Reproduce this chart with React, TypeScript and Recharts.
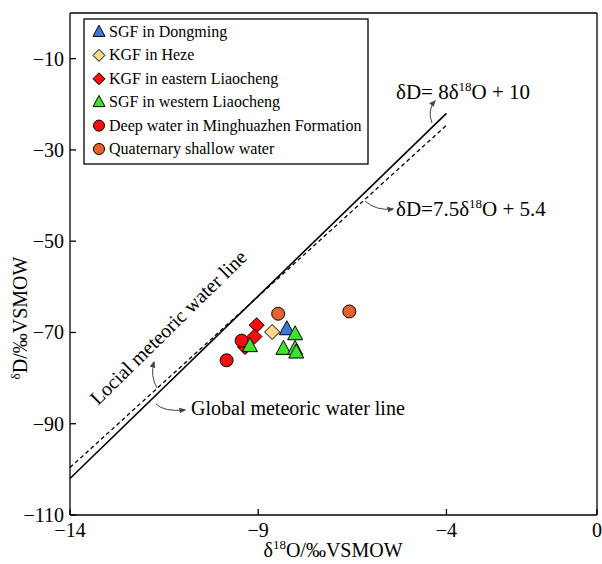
import { ScatterChart, Scatter, XAxis, YAxis, ReferenceLine } from "recharts"

// sample points (δ18O, δD)
const sgfDongming = [{ x: -8.24, y: -69.3 }]
const kgfHeze = [{ x: -8.63, y: -69.9 }]
const kgfEastLiaocheng = [
  { x: -9.04, y: -68.4 },
  { x: -9.1, y: -70.9 },
  { x: -9.35, y: -73.2 },
]
const sgfWestLiaocheng = [
  { x: -9.22, y: -73.0 },
  { x: -8.02, y: -70.4 },
  { x: -8.33, y: -73.6 },
  { x: -8.02, y: -73.6 },
  { x: -7.99, y: -74.4 },
]
const deepWater = [
  { x: -9.84, y: -76.1 },
  { x: -9.44, y: -71.8 },
]
const shallowWater = [
  { x: -8.47, y: -65.9 },
  { x: -6.58, y: -65.4 },
]

const xTicks = [-14, -9, -4, 0]
const yTicks = [-110, -90, -70, -50, -30, -10]

const gmwl = { slope: 8, intercept: 10 }
const lmwl = { slope: 7.5, intercept: 5.4 }
const lineRange = [-14, -4]

const FONT = "'Liberation Serif', 'Times New Roman', serif"
const W = 602
const H = 564
const LEFT = 70
const TOP = 13
const RIGHT = 5
const BOTTOM = 49

const blue = "#3b78de"
const tan = "#f8d98c"
const red = "#f80c0c"
const green = "#3ee42a"
const orange = "#e5622f"

const minus = (v: number) => (v < 0 ? "\u2212" + Math.abs(v) : String(v))

const triangle = (fill: string, s = 1) => (p: any) => (
  <path
    d={`M${p.cx},${p.cy - 8.5 * s} L${p.cx + 7.5 * s},${p.cy + 5.5 * s} L${p.cx - 7.5 * s},${p.cy + 5.5 * s} Z`}
    fill={fill}
    stroke="#000"
    strokeWidth={1}
  />
)
const diamond = (fill: string, s = 1) => (p: any) => (
  <path
    d={`M${p.cx},${p.cy - 7.5 * s} L${p.cx + 7.5 * s},${p.cy} L${p.cx},${p.cy + 7.5 * s} L${p.cx - 7.5 * s},${p.cy} Z`}
    fill={fill}
    stroke="#000"
    strokeWidth={1}
  />
)
const circle = (fill: string, s = 1) => (p: any) => (
  <circle cx={p.cx} cy={p.cy} r={6.5 * s} fill={fill} stroke="#000" strokeWidth={1} />
)

const legendItems = [
  { name: "SGF in Dongming", shape: triangle(blue, 0.8) },
  { name: "KGF in Heze", shape: diamond(tan, 0.8) },
  { name: "KGF in eastern Liaocheng", shape: diamond(red, 0.8) },
  { name: "SGF in western Liaocheng", shape: triangle(green, 0.8) },
  { name: "Deep water in Minghuazhen Formation", shape: circle(red, 0.85) },
  { name: "Quaternary shallow water", shape: circle(orange, 0.85) },
]

const XTick = (p: any) => (
  <g>
    <line x1={p.x} x2={p.x} y1={p.y} y2={p.y - 6} stroke="#000" strokeWidth={1.3} />
    <text x={p.x} y={p.y + 22} textAnchor="middle" fontSize={20} fontFamily={FONT} fill="#000">
      {minus(p.payload.value)}
    </text>
  </g>
)

const YTick = (p: any) => (
  <g>
    <line x1={p.x} x2={p.x + 6} y1={p.y} y2={p.y} stroke="#000" strokeWidth={1.3} />
    <text x={p.x - 6} y={p.y + 7} textAnchor="end" fontSize={20} fontFamily={FONT} fill="#000">
      {minus(p.payload.value)}
    </text>
  </g>
)

function Overlay() {
  const textStyle = { fontFamily: FONT, fill: "#000" }
  return (
    <svg
      width={W}
      height={H}
      style={{ position: "absolute", left: 0, top: 0, pointerEvents: "none" }}
    >
      <defs>
        <marker id="ah" viewBox="0 0 10 10" refX="8" refY="5" markerWidth="7" markerHeight="7" orient="auto">
          <path d="M0,1 L10,5 L0,9 Z" fill="#444" />
        </marker>
      </defs>
      {/* legend */}
      <rect x={84} y={19} width={284} height={145} fill="#fff" stroke="#000" strokeWidth={1.3} />
      {legendItems.map((it, i) => {
        const cy = 32 + i * 23.4
        return (
          <g key={it.name}>
            {it.shape({ cx: 99, cy })}
            <text x={109} y={cy + 5} fontSize={16} {...textStyle}>
              {it.name}
            </text>
          </g>
        )
      })}

      {/* equations */}
      <text x={396} y={99} fontSize={21} {...textStyle}>
        δD= 8δ<tspan fontSize={13} dy={-8}>18</tspan>
        <tspan dy={8}>O + 10</tspan>
      </text>
      <path d="M432,123 Q427,110 435,101" fill="none" stroke="#444" strokeWidth={1} markerEnd="url(#ah)" />

      <text x={396} y={216} fontSize={21} {...textStyle}>
        δD=7.5δ<tspan fontSize={13} dy={-8}>18</tspan>
        <tspan dy={8}>O + 5.4</tspan>
      </text>
      <path d="M365,201 Q376,211 393,209" fill="none" stroke="#444" strokeWidth={1} markerEnd="url(#ah)" />

      <text x={191} y={415} fontSize={20} {...textStyle}>
        Global meteoric water line
      </text>
      <path d="M156,404 Q164,412 185,410" fill="none" stroke="#444" strokeWidth={1} markerEnd="url(#ah)" />

      <text x={98} y={406} fontSize={20} transform="rotate(-44.5 98 406)" {...textStyle}>
        Locial meteoric water line
      </text>
      <path d="M157,388 Q150,376 154,362" fill="none" stroke="#444" strokeWidth={1} markerEnd="url(#ah)" />

      {/* axis titles */}
      <text x={333} y={557} textAnchor="middle" fontSize={20} {...textStyle}>
        δ<tspan fontSize={13} dy={-8}>18</tspan>
        <tspan dy={8}>O/‰VSMOW</tspan>
      </text>
      <text x={27} y={318} textAnchor="middle" fontSize={20} transform="rotate(-90 27 318)" {...textStyle}>
        <tspan fontSize={13} dy={-7}>δ</tspan>
        <tspan dy={7}>D/‰VSMOW</tspan>
      </text>
    </svg>
  )
}

export default function App() {
  const seg = (l: { slope: number; intercept: number }) =>
    lineRange.map((x) => ({ x, y: l.slope * x + l.intercept }))
  return (
    <div style={{ position: "relative", width: W, height: H, background: "#fff" }}>
      <style>{`body{margin:0}`}</style>
      <ScatterChart width={W} height={H} margin={{ top: TOP, right: RIGHT, bottom: 0, left: 0 }}>
        <XAxis
          type="number"
          dataKey="x"
          domain={[-14, 0]}
          ticks={xTicks}
          tick={<XTick />}
          tickLine={false}
          tickSize={0}
          tickMargin={0}
          height={BOTTOM}
          axisLine={{ stroke: "#000", strokeWidth: 1.3 }}
          allowDataOverflow
        />
        <YAxis
          type="number"
          dataKey="y"
          domain={[-110, 0]}
          ticks={yTicks}
          tick={<YTick />}
          tickLine={false}
          tickSize={0}
          tickMargin={0}
          width={LEFT}
          axisLine={{ stroke: "#000", strokeWidth: 1.3 }}
          allowDataOverflow
        />
        <ReferenceLine y={0} stroke="#000" strokeWidth={1.3} />
        <ReferenceLine x={0} stroke="#000" strokeWidth={1.3} />
        <ReferenceLine segment={seg(gmwl)} stroke="#000" strokeWidth={1.6} ifOverflow="visible" />
        <ReferenceLine segment={seg(lmwl)} stroke="#000" strokeWidth={1.3} strokeDasharray="4 3" ifOverflow="visible" />
        <Scatter data={kgfEastLiaocheng} shape={diamond(red)} isAnimationActive={false} />
        <Scatter data={deepWater} shape={circle(red)} isAnimationActive={false} />
        <Scatter data={shallowWater} shape={circle(orange)} isAnimationActive={false} />
        <Scatter data={kgfHeze} shape={diamond(tan)} isAnimationActive={false} />
        <Scatter data={sgfDongming} shape={triangle(blue)} isAnimationActive={false} />
        <Scatter data={sgfWestLiaocheng} shape={triangle(green)} isAnimationActive={false} />
      </ScatterChart>
      <Overlay />
    </div>
  )
}
